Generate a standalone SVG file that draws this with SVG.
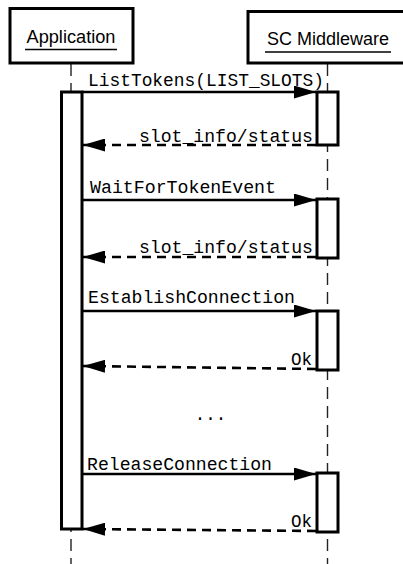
<svg xmlns="http://www.w3.org/2000/svg" width="403" height="564" viewBox="0 0 403 564">
  <style>
    .head { fill: #fff; stroke: #000; stroke-width: 3; }
    .title { font-family: "Liberation Sans", Arial, sans-serif; font-size: 17.5px; fill: #000; text-anchor: middle; }
    .uline { stroke: #000; stroke-width: 1.4; }
    .life { stroke: #222; stroke-width: 1.4; stroke-dasharray: 12 7; fill: none; }
    .act { fill: #fff; stroke: #000; stroke-width: 3; }
    .call { stroke: #000; stroke-width: 2.6; fill: none; marker-end: url(#head); }
    .ret { stroke: #000; stroke-width: 2.6; fill: none; stroke-dasharray: 9 6; marker-end: url(#head); }
    .lbl { font-family: "Liberation Mono", "Courier New", monospace; font-size: 17.5px; fill: #000; }
    .end { text-anchor: end; }
  </style>
  <defs>
    <marker id="head" markerUnits="userSpaceOnUse" markerWidth="22" markerHeight="13" refX="22" refY="6.5" orient="auto">
      <path d="M0,0 L22,6.5 L0,13 z" fill="#000"/>
    </marker>
  </defs>

  <!-- lifelines -->
  <g id="lifelines">
    <line class="life" x1="71" y1="64" x2="71" y2="564"/>
    <line class="life" x1="327.5" y1="64" x2="327.5" y2="564"/>
  </g>

  <!-- participants -->
  <g id="application">
    <rect class="head" x="10" y="8.5" width="123" height="54.5"/>
    <text class="title" x="71" y="43" textLength="89" lengthAdjust="spacingAndGlyphs">Application</text>
    <line class="uline" x1="25" y1="49.5" x2="117" y2="49.5"/>
  </g>
  <g id="sc-middleware">
    <rect class="head" x="248" y="11.5" width="160" height="51.5"/>
    <text class="title" x="328" y="45" textLength="122" lengthAdjust="spacingAndGlyphs">SC Middleware</text>
    <line class="uline" x1="265" y1="52" x2="391" y2="52"/>
  </g>

  <!-- activation bars -->
  <g id="application-activation">
    <rect class="act" x="61.5" y="92" width="20.5" height="437"/>
  </g>
  <g id="sc-activations">
    <rect class="act" x="317" y="92" width="21" height="53"/>
    <rect class="act" x="317" y="199" width="21" height="59"/>
    <rect class="act" x="317" y="311" width="21" height="59"/>
    <rect class="act" x="317" y="473" width="21" height="59"/>
  </g>

  <!-- messages -->
  <g id="connectors">
    <line class="call" x1="82" y1="92" x2="316" y2="92"/>
    <line class="ret" x1="316" y1="145" x2="83" y2="145"/>
    <line class="call" x1="82" y1="200" x2="316" y2="200"/>
    <line class="ret" x1="316" y1="257" x2="83" y2="257"/>
    <line class="call" x1="82" y1="311" x2="316" y2="311"/>
    <line class="ret" x1="316" y1="369" x2="83" y2="366"/>
    <line class="call" x1="82" y1="474" x2="316" y2="474"/>
    <line class="ret" x1="316" y1="531" x2="83" y2="529"/>
  </g>

  <!-- message labels -->
  <g id="labels">
    <text class="lbl" x="88" y="86" textLength="236" lengthAdjust="spacingAndGlyphs">ListTokens(LIST_SLOTS)</text>
    <text class="lbl end" x="313" y="142" textLength="174" lengthAdjust="spacingAndGlyphs">slot_info/status</text>
    <text class="lbl" x="90" y="193" textLength="186" lengthAdjust="spacingAndGlyphs">WaitForTokenEvent</text>
    <text class="lbl end" x="313" y="253" textLength="174" lengthAdjust="spacingAndGlyphs">slot_info/status</text>
    <text class="lbl" x="88" y="303" textLength="207" lengthAdjust="spacingAndGlyphs">EstablishConnection</text>
    <text class="lbl end" x="312" y="365">Ok</text>
    <text class="lbl" x="210.5" y="420" text-anchor="middle">...</text>
    <text class="lbl" x="87" y="470" textLength="185" lengthAdjust="spacingAndGlyphs">ReleaseConnection</text>
    <text class="lbl end" x="312" y="527">Ok</text>
  </g>
</svg>
